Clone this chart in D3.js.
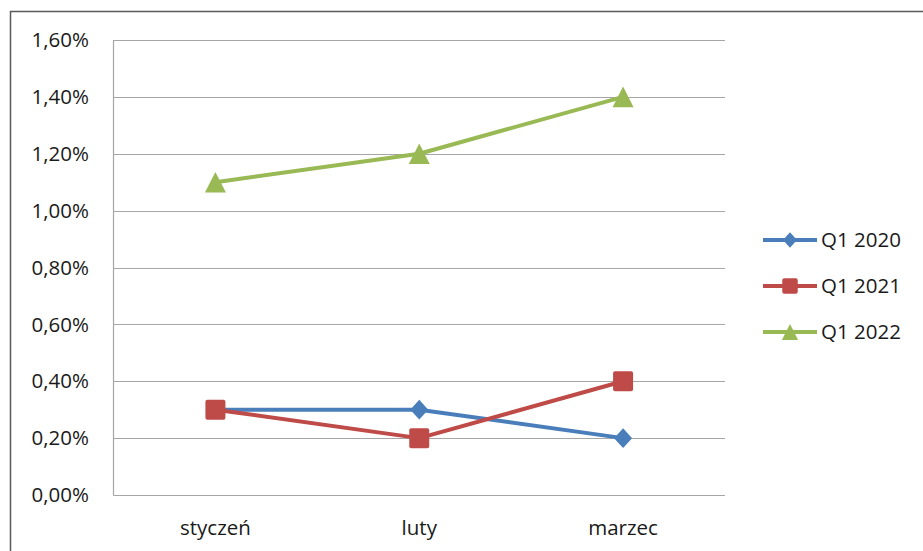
<!DOCTYPE html>
<html>
<head>
<meta charset="utf-8">
<script src="https://cdn.jsdelivr.net/npm/d3@7"></script>
<style>
  body { margin: 0; background: #fff; }
  svg text { font-family: 'Open Sans', 'Liberation Sans', sans-serif; fill: #1a1a1a; }
</style>
</head>
<body>
<svg id="chart" width="923" height="551"></svg>
<script>
const months = ['styczeń', 'luty', 'marzec']
const q2020 = [0.3, 0.3, 0.2]
const q2021 = [0.3, 0.2, 0.4]
const q2022 = [1.1, 1.2, 1.4]
const yTicks = [0, 0.2, 0.4, 0.6, 0.8, 1.0, 1.2, 1.4, 1.6]

// marker shapes: size is the box width squared
const diamond = {
  draw(context, size) {
    const w = Math.sqrt(size) / 2
    const h = w * 1.1
    context.moveTo(0, -h)
    context.lineTo(w, 0)
    context.lineTo(0, h)
    context.lineTo(-w, 0)
    context.closePath()
  },
}
const square = {
  draw(context, size) {
    const w = Math.sqrt(size) / 2
    const r = 2
    context.moveTo(-w + r, -w)
    context.lineTo(w - r, -w)
    context.arcTo(w, -w, w, -w + r, r)
    context.lineTo(w, w - r)
    context.arcTo(w, w, w - r, w, r)
    context.lineTo(-w + r, w)
    context.arcTo(-w, w, -w, w - r, r)
    context.lineTo(-w, -w + r)
    context.arcTo(-w, -w, -w + r, -w, r)
    context.closePath()
  },
}
const triangle = {
  draw(context, size) {
    const w = Math.sqrt(size)
    const h = w * 0.98
    context.moveTo(0, -h / 2)
    context.lineTo(w / 2, h / 2)
    context.lineTo(-w / 2, h / 2)
    context.closePath()
  },
}

const series = [
  { name: 'Q1 2020', values: q2020, color: '#4A7EBB', marker: diamond, size: 18 * 18 },
  { name: 'Q1 2021', values: q2021, color: '#BE4B48', marker: square, size: 20 * 20 },
  { name: 'Q1 2022', values: q2022, color: '#98B954', marker: triangle, size: 21 * 21 },
]

const svg = d3.select('#chart')

// outer frame
svg.append('rect')
  .attr('x', 10.5).attr('y', 11.5)
  .attr('width', 940).attr('height', 560)
  .attr('fill', 'none')
  .attr('stroke', '#595959')
  .attr('stroke-width', 1.5)

const plot = { left: 113.5, right: 725, top: 40, bottom: 495 }

const x = d3.scaleBand().domain(months).range([plot.left, plot.right])
const y = d3.scaleLinear().domain([0, 1.6]).range([plot.bottom, plot.top])

const fmt = (v) => v.toFixed(2).replace('.', ',') + '%'

// gridlines
svg.append('g')
  .selectAll('line')
  .data(yTicks)
  .join('line')
  .attr('x1', plot.left).attr('x2', plot.right)
  .attr('y1', (d) => Math.round(y(d)) + 0.5).attr('y2', (d) => Math.round(y(d)) + 0.5)
  .attr('stroke', '#A6A6A6')
  .attr('stroke-width', 1.2)

// y axis line
svg.append('line')
  .attr('x1', plot.left).attr('x2', plot.left)
  .attr('y1', plot.top).attr('y2', plot.bottom + 0.5)
  .attr('stroke', '#A6A6A6')
  .attr('stroke-width', 1.2)

// y tick labels
svg.append('g')
  .selectAll('text')
  .data(yTicks)
  .join('text')
  .attr('x', 89)
  .attr('y', (d) => y(d))
  .attr('dy', '0.35em')
  .attr('text-anchor', 'end')
  .attr('font-size', 20.5)
  .text(fmt)

// x labels
svg.append('g')
  .selectAll('text')
  .data(months)
  .join('text')
  .attr('x', (d) => x(d) + x.bandwidth() / 2)
  .attr('y', 535)
  .attr('text-anchor', 'middle')
  .attr('font-size', 20.5)
  .text((d) => d)

const line = d3.line()
  .x((d, i) => x(months[i]) + x.bandwidth() / 2)
  .y((d) => y(d))

series.forEach((s) => {
  const g = svg.append('g')
  g.append('path')
    .attr('d', line(s.values))
    .attr('fill', 'none')
    .attr('stroke', s.color)
    .attr('stroke-width', 4)
    .attr('stroke-linejoin', 'round')
  g.selectAll('path.marker')
    .data(s.values)
    .join('path')
    .classed('marker', true)
    .attr('d', d3.symbol().type(s.marker).size(s.size))
    .attr('transform', (d, i) => `translate(${x(months[i]) + x.bandwidth() / 2}, ${y(d)})`)
    .attr('fill', s.color)
})

// legend (markers drawn smaller than on the plot)
const legend = svg.append('g')
  .selectAll('g')
  .data(series)
  .join('g')
  .attr('transform', (d, i) => `translate(763, ${240 + i * 46})`)

legend.append('line')
  .attr('x1', 0).attr('x2', 54)
  .attr('stroke', (d) => d.color)
  .attr('stroke-width', 4)
legend.append('path')
  .attr('d', (d) => d3.symbol().type(d.marker).size(d.size * 0.6)())
  .attr('transform', 'translate(27, 0)')
  .attr('fill', (d) => d.color)
legend.append('text')
  .attr('x', 58)
  .attr('dy', '0.35em')
  .attr('font-size', 20.5)
  .text((d) => d.name)
</script>
</body>
</html>
